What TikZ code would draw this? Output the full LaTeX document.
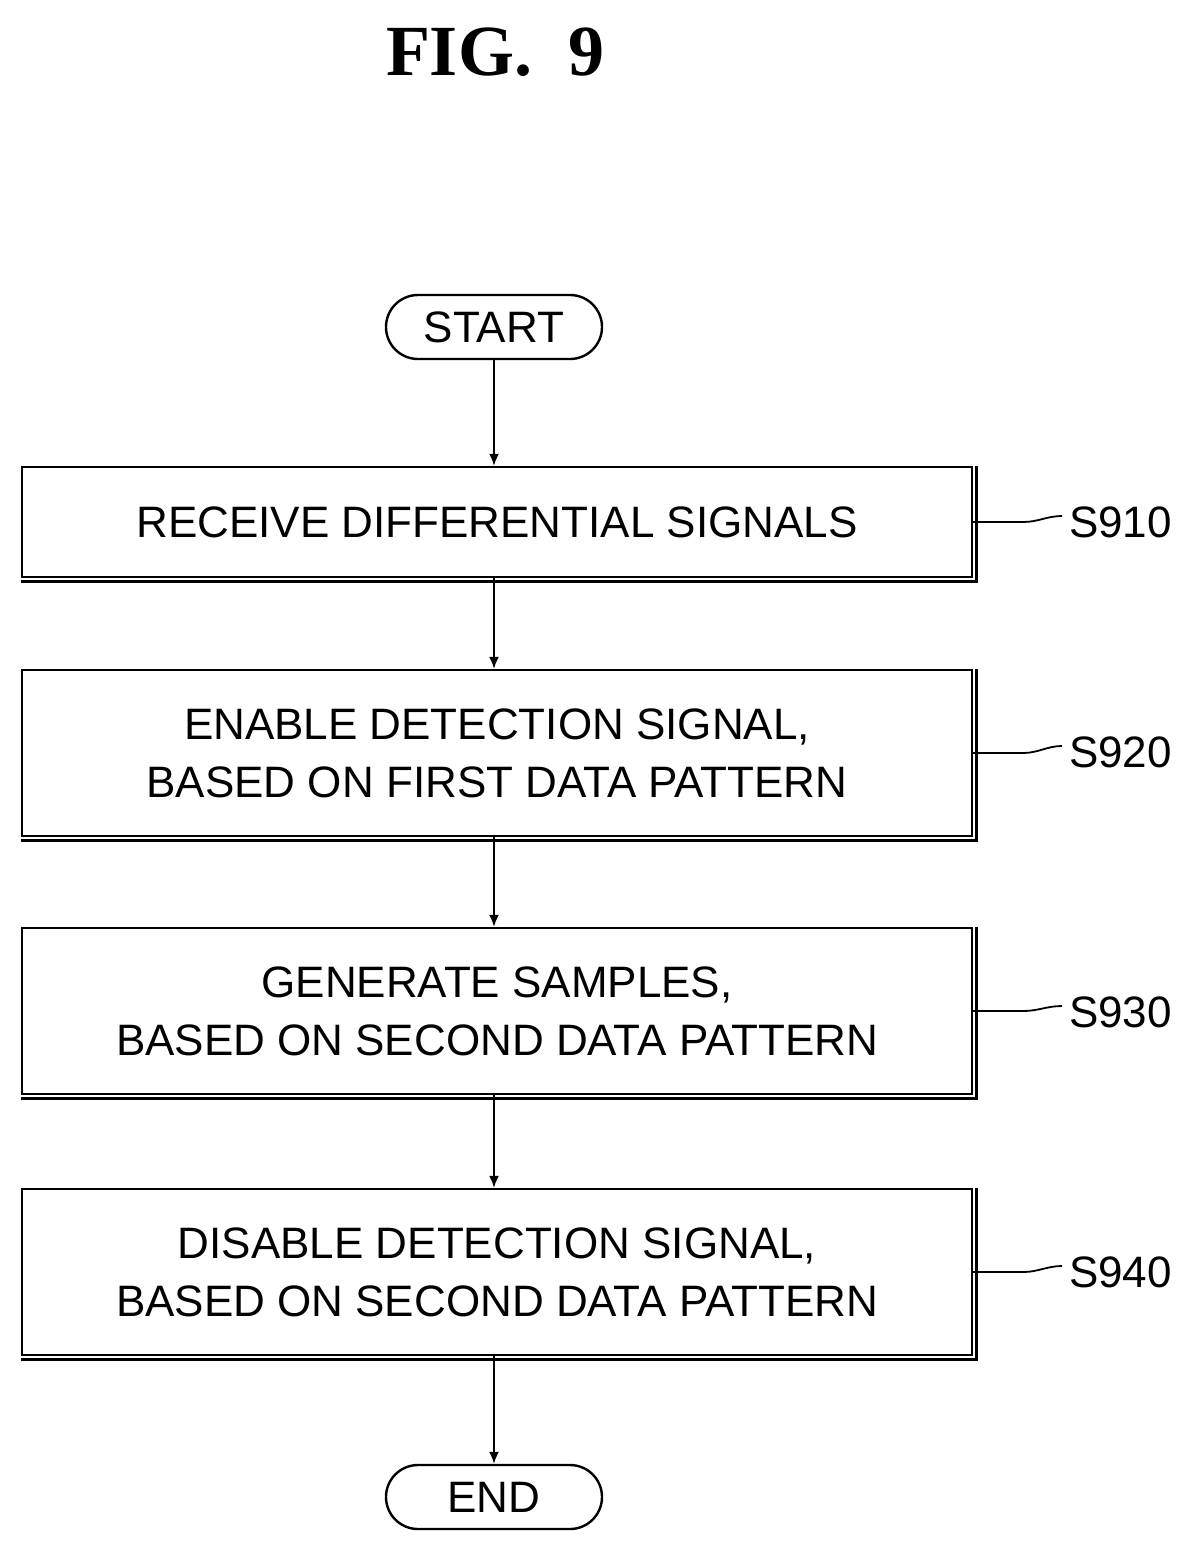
\documentclass[tikz,border=0pt]{standalone}
\usetikzlibrary{arrows.meta}
\usepackage{fontspec}
\setmainfont{Liberation Sans}
\newfontfamily\titlefont{Liberation Serif}
\begin{document}
\begin{tikzpicture}[x=0.5pt,y=-0.5pt,
  box/.style={draw,line width=1.2pt,inner sep=0pt,align=center,font=\fontsize{22}{29}\selectfont},
  term/.style={draw,line width=1.2pt,rounded corners=16pt,minimum width=108pt,minimum height=32pt,font=\fontsize{22}{26}\selectfont},
  arr/.style={line width=0.9pt,-{Latex[length=6pt,width=5pt]}},
  lab/.style={font=\fontsize{22}{26}\selectfont,anchor=west},
  lead/.style={line width=0.9pt}]
\useasboundingbox (0,0) rectangle (1190,1568);
\node[font=\titlefont\bfseries\fontsize{36}{40}\selectfont] (title) at (495,52) {FIG.\ \ 9};
\node[term] (start) at (494,327) {START};
\node[box,minimum width=475pt,minimum height=55pt] (s1) at (497,522) {RECEIVE DIFFERENTIAL SIGNALS};
\node[box,minimum width=475pt,minimum height=83pt] (s2) at (497,753) {ENABLE DETECTION SIGNAL,\\BASED ON FIRST DATA PATTERN};
\node[box,minimum width=475pt,minimum height=83pt] (s3) at (497,1011) {GENERATE SAMPLES,\\BASED ON SECOND DATA PATTERN};
\node[box,minimum width=475pt,minimum height=83pt] (s4) at (497,1272) {DISABLE DETECTION SIGNAL,\\BASED ON SECOND DATA PATTERN};
\node[term] (end) at (494,1497) {END};
\foreach \n in {s1,s2,s3,s4}{
  \draw[line width=1.5pt] ([xshift=1.5pt]\n.north east) -- ([xshift=1.5pt,yshift=-1.5pt]\n.south east) -- ([yshift=-1.5pt]\n.south west);
}
\draw[arr] (start) -- (s1.north -| start);
\draw[arr] (s1.south -| start) -- (s2.north -| start);
\draw[arr] (s2.south -| start) -- (s3.north -| start);
\draw[arr] (s3.south -| start) -- (s4.north -| start);
\draw[arr] (s4.south -| start) -- (end);
\node[lab] (l1) at (1062,522) {S910};
\node[lab] (l2) at (1062,752) {S920};
\node[lab] (l3) at (1062,1012) {S930};
\node[lab] (l4) at (1062,1272) {S940};
\foreach \n/\l in {s1/l1,s2/l2,s3/l3,s4/l4}{
  \draw[lead] (\n.east) -- ++(50,0) .. controls +(15,0) and +(-15,0) .. ([yshift=3pt]\l.west);
}
\end{tikzpicture}
\end{document}
